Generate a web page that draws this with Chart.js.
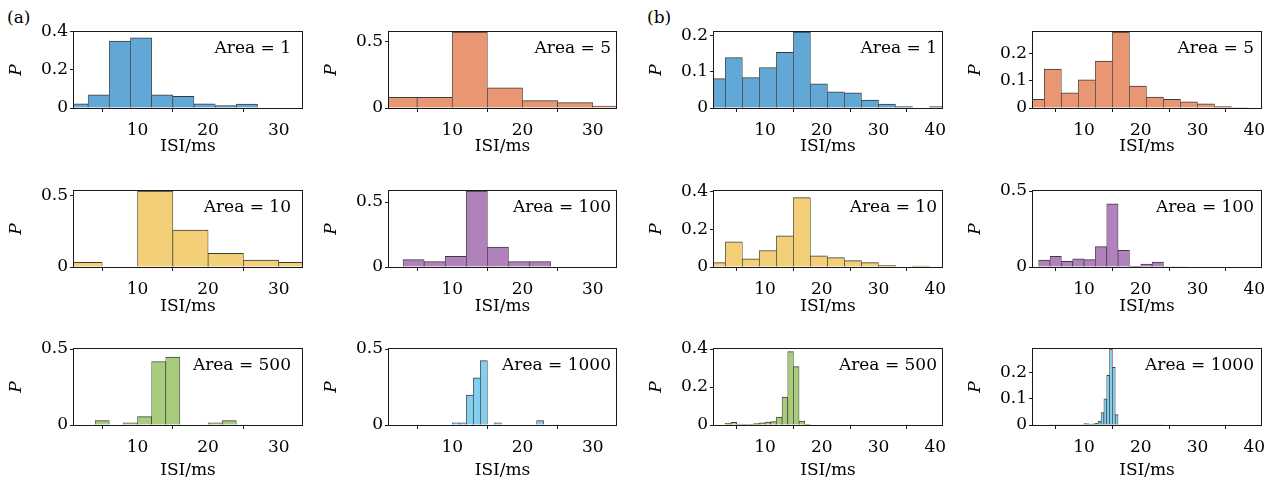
<!DOCTYPE html>
<html><head><meta charset="utf-8">
<script src="https://cdn.jsdelivr.net/npm/chart.js@4.4.1/dist/chart.umd.min.js"></script>
<style>
html,body{margin:0;padding:0;background:#fff;}
body{width:1277px;height:482px;position:relative;overflow:hidden;}
canvas{position:absolute;}
.lab{position:absolute;font-family:"DejaVu Serif";font-size:17px;color:#000;line-height:20px;}
</style></head><body>
<div class="lab" style="left:7px;top:7px">(a)</div>
<div class="lab" style="left:647px;top:7px">(b)</div>
<script>
// ---------- tick labels ----------
const xTicksA = [10, 20, 30];
const xTicksB = [10, 20, 30, 40];
const yTicks02 = [0, 0.2, 0.4];
const yTicks05 = [0, 0.5];
const yTicks01 = [0, 0.1, 0.2];

// ---------- (a) histograms: bin centres (ms) and probabilities ----------
const a1X = [1.5, 4.5, 7.5, 10.5, 13.5, 16.5, 19.5, 22.5, 25.5, 28.5, 31.5];
const a1P = [0.022, 0.069, 0.350, 0.367, 0.069, 0.061, 0.022, 0.012, 0.021, 0, 0];
const a5X = [2.5, 7.5, 12.5, 17.5, 22.5, 27.5, 32.5];
const a5P = [0.081, 0.081, 0.572, 0.152, 0.056, 0.041, 0.015];
const a10X = [2.5, 7.5, 12.5, 17.5, 22.5, 27.5, 32.5];
const a10P = [0.033, 0, 0.53, 0.258, 0.096, 0.049, 0.033];
const a100X = [1.5, 4.5, 7.5, 10.5, 13.5, 16.5, 19.5, 22.5, 25.5, 28.5, 31.5];
const a100P = [0, 0.057, 0.041, 0.083, 0.585, 0.153, 0.041, 0.041, 0, 0, 0];
const a500X = [1, 3, 5, 7, 9, 11, 13, 15, 17, 19, 21, 23, 25, 27, 29, 31, 33];
const a500P = [0, 0, 0.029, 0, 0.015, 0.055, 0.418, 0.447, 0, 0, 0.015, 0.029, 0, 0, 0, 0, 0];
const a1000X = [10.5, 11.5, 12.5, 13.5, 14.5, 15.5, 16.5, 17.5, 18.5, 19.5, 20.5, 21.5, 22.5];
const a1000P = [0.015, 0.015, 0.197, 0.31, 0.423, 0, 0.015, 0, 0, 0, 0, 0, 0.029];

// ---------- (b) histograms ----------
const b1X = [1.5, 4.5, 7.5, 10.5, 13.5, 16.5, 19.5, 22.5, 25.5, 28.5, 31.5, 34.5, 37.5, 40.5];
const b1P = [0.081, 0.139, 0.084, 0.112, 0.154, 0.21, 0.067, 0.045, 0.042, 0.022, 0.011, 0.004, 0, 0.004];
const b5X = [1.5, 4.5, 7.5, 10.5, 13.5, 16.5, 19.5, 22.5, 25.5, 28.5, 31.5, 34.5, 37.5, 40.5];
const b5P = [0.032, 0.143, 0.056, 0.104, 0.173, 0.28, 0.081, 0.04, 0.032, 0.023, 0.015, 0.005, 0.002, 0];
const b10X = [1.5, 4.5, 7.5, 10.5, 13.5, 16.5, 19.5, 22.5, 25.5, 28.5, 31.5, 34.5, 37.5, 40.5];
const b10P = [0.023, 0.134, 0.043, 0.088, 0.166, 0.37, 0.059, 0.05, 0.034, 0.023, 0.009, 0, 0.005, 0];
const b100X = [3, 5, 7, 9, 11, 13, 15, 17, 19, 21, 23, 25, 27];
const b100P = [0.046, 0.07, 0.037, 0.053, 0.048, 0.134, 0.416, 0.11, 0.004, 0.02, 0.033, 0.002, 0.001];
const b500X = [3.5, 4.5, 5.5, 6.5, 7.5, 8.5, 9.5, 10.5, 11.5, 12.5, 13.5, 14.5, 15.5, 16.5, 17.5, 18.5, 19.5, 20.5, 21.5, 22.5, 23.5];
const b500P = [0.009, 0.014, 0.005, 0.003, 0.003, 0.007, 0.011, 0.016, 0.018, 0.042, 0.147, 0.386, 0.307, 0.021, 0.003, 0.002, 0.002, 0.002, 0.002, 0.002, 0.002];
const b1000X = [4.25, 4.75, 5.25, 5.75, 6.25, 6.75, 7.25, 7.75, 8.25, 8.75,
                9.25, 9.75, 10.25, 10.75, 11.25, 11.75, 12.25, 12.75, 13.25, 13.75,
                14.25, 14.75, 15.25, 15.75, 16.25, 16.75, 17.25, 17.75, 18.25, 18.75,
                19.25, 19.75, 20.25, 20.75, 21.25, 21.75, 22.25, 22.75, 23.25, 23.75];
const b1000P = [0.002, 0.001, 0.001, 0.001, 0.001, 0.001, 0.001, 0.001, 0.001, 0.001,
                0.002, 0.002, 0.005, 0.004, 0.003, 0.004, 0.006, 0.015, 0.047, 0.1,
                0.19, 0.29, 0.22, 0.04, 0.002, 0.002, 0.001, 0.001, 0.001, 0.001,
                0.001, 0.001, 0.001, 0.001, 0.001, 0.001, 0.001, 0.001, 0.001, 0.001];

// ---------- styles / layout ----------
const COLORS = {
  1: 'rgb(98,168,215)', 5: 'rgb(232,151,114)', 10: 'rgb(243,208,120)',
  100: 'rgb(177,129,188)', 500: 'rgb(168,203,125)', 1000: 'rgb(132,206,238)'
};
const EDGE = '#3c3c3c';
const FONT = 'DejaVu Serif';
const FS = 17;
const colLeft = [74, 389, 714, 1033];
const colWidth = [228, 227, 228, 228];
const rowTop = [32, 191, 349];
const AXH = 76;
const titleOff = [39, 40, 46];
const annRight = [11, 5, 5, 7];
const PADT = 14, PADR = 18, YW = 68;

Chart.defaults.font.family = FONT;
Chart.defaults.font.size = FS;
Chart.defaults.color = '#000';

const boxPlugin = {
  id: 'boxAnn',
  afterDraw(chart) {
    const {ctx, chartArea: a} = chart;
    const o = chart.options.plugins.boxAnn;
    ctx.save();
    ctx.strokeStyle = '#1a1a1a';
    ctx.lineWidth = 1;
    ctx.strokeRect(Math.round(a.left) - 0.5, Math.round(a.top) - 0.5,
                   Math.round(a.right - a.left) + 1, Math.round(a.bottom - a.top) + 1);
    ctx.font = FS + 'px "' + FONT + '"';
    ctx.fillStyle = '#000';
    ctx.textAlign = 'right';
    ctx.textBaseline = 'middle';
    ctx.fillText(o.text, a.right - o.right, a.top + 17);
    ctx.restore();
  }
};

function fmt(v) { return String(v); }

function panel(col, row, xs, ps, xRange, xTicks, yMax, yTicks, area) {
  const xH = Math.round(titleOff[row] + FS * 1.2 / 2);
  const W = YW + colWidth[col] + PADR;
  const H = PADT + AXH + xH;
  const c = document.createElement('canvas');
  c.width = W; c.height = H;
  c.style.left = (colLeft[col] - YW) + 'px';
  c.style.top = (rowTop[row] - PADT) + 'px';
  c.style.width = W + 'px'; c.style.height = H + 'px';
  document.body.appendChild(c);
  const tickGrid = {display: true, drawOnChartArea: false, drawTicks: true, tickLength: 4, color: '#1a1a1a', lineWidth: 1};
  new Chart(c, {
    type: 'bar',
    data: {
      datasets: [{
        data: xs.map((x, i) => ({x: x, y: ps[i]})),
        backgroundColor: COLORS[area],
        borderColor: EDGE,
        borderWidth: {top: 1, left: 0.7, right: 0.7, bottom: 0},
        borderSkipped: 'start',
        categoryPercentage: 1.0,
        barPercentage: 1.0,
        clip: 0
      }]
    },
    options: {
      responsive: false,
      animation: false,
      events: [],
      layout: {padding: {top: PADT, right: PADR, left: 0, bottom: 0}},
      plugins: {legend: {display: false}, tooltip: {enabled: false},
                boxAnn: {text: 'Area = ' + area, right: annRight[col]}},
      scales: {
        x: {
          type: 'linear', min: xRange[0], max: xRange[1], offset: false,
          grid: tickGrid, border: {display: false},
          ticks: {padding: 8, maxRotation: 0, autoSkip: false, callback: fmt},
          afterBuildTicks: s => { s.ticks = xTicks.map(v => ({value: v})); },
          afterFit: s => { s.height = xH; },
          title: {display: true, text: 'ISI/ms', padding: 0, font: {family: FONT, size: FS}}
        },
        y: {
          type: 'linear', min: 0, max: yMax,
          grid: tickGrid, border: {display: false},
          ticks: {padding: 2, autoSkip: false, callback: fmt},
          afterBuildTicks: s => { s.ticks = yTicks.map(v => ({value: v})); },
          afterFit: s => { s.width = YW; },
          title: {display: true, text: 'P', padding: 0, font: {family: FONT, size: FS, style: 'italic'}}
        }
      }
    },
    plugins: [boxPlugin]
  });
}

const XA = [1.0, 33.3];
const XB = [1.0, 41.2];
panel(0, 0, a1X, a1P, XA, xTicksA, 0.397, yTicks02, 1);
panel(1, 0, a5X, a5P, XA, xTicksA, 0.572, yTicks05, 5);
panel(0, 1, a10X, a10P, XA, xTicksA, 0.53, yTicks05, 10);
panel(1, 1, a100X, a100P, XA, xTicksA, 0.585, yTicks05, 100);
panel(0, 2, a500X, a500P, XA, xTicksA, 0.5, yTicks05, 500);
panel(1, 2, a1000X, a1000P, XA, xTicksA, 0.5, yTicks05, 1000);
panel(2, 0, b1X, b1P, XB, xTicksB, 0.21, yTicks01, 1);
panel(3, 0, b5X, b5P, XB, xTicksB, 0.28, yTicks01, 5);
panel(2, 1, b10X, b10P, XB, xTicksB, 0.405, yTicks02, 10);
panel(3, 1, b100X, b100P, XB, xTicksB, 0.5, yTicks05, 100);
panel(2, 2, b500X, b500P, XB, xTicksB, 0.4, yTicks02, 500);
panel(3, 2, b1000X, b1000P, XB, xTicksB, 0.29, yTicks01, 1000);
</script>
</body></html>
